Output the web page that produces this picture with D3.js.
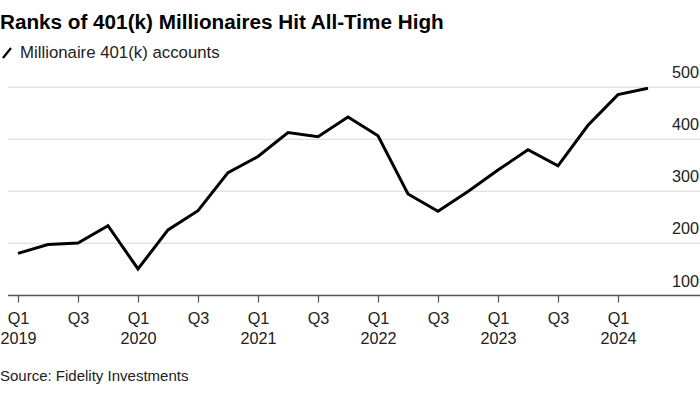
<!DOCTYPE html>
<html>
<head>
<meta charset="utf-8">
<script src="https://cdn.jsdelivr.net/npm/d3@7"></script>
<style>
    body { margin: 0; background: #fff; overflow: hidden; }
    svg { display: block; font-family: "Liberation Sans", Arial, sans-serif; }
</style>
</head>
<body>
<div id="chart"></div>
<script>
// datos (miles de cuentas)
const quarters = ['Q1 2019','Q2 2019','Q3 2019','Q4 2019','Q1 2020','Q2 2020','Q3 2020','Q4 2020',
    'Q1 2021','Q2 2021','Q3 2021','Q4 2021','Q1 2022','Q2 2022','Q3 2022','Q4 2022',
    'Q1 2023','Q2 2023','Q3 2023','Q4 2023','Q1 2024','Q2 2024'];
const accounts = [181, 198, 201, 234, 151, 226, 263, 336, 367, 413, 405, 443, 407, 295, 262, 300,
    341, 380, 349, 427, 486, 498];
const yTicks = [100, 200, 300, 400, 500];
const tickQuarters = ['Q1 2019','Q3 2019','Q1 2020','Q3 2020','Q1 2021','Q3 2021','Q1 2022','Q3 2022',
    'Q1 2023','Q3 2023','Q1 2024'];

let width = 700;
let height = 394;

let svg = d3.select('#chart').append('svg')
    .attr('width', width)
    .attr('height', height);

// Titulo
svg.append('text')
    .attr('x', 0).attr('y', 29)
    .style('font-size', '20.7px').style('font-weight', 'bold').style('fill', '#000')
    .text('Ranks of 401(k) Millionaires Hit All-Time High');

svg.append('line')
    .attr('x1', 3).attr('y1', 58).attr('x2', 11).attr('y2', 48)
    .style('stroke', '#000').style('stroke-width', 2.2);

svg.append('text')
    .attr('x', 20).attr('y', 58)
    .style('font-size', '16.8px').style('fill', '#222')
    .text('Millionaire 401(k) accounts');

const x = d3.scalePoint()
    .domain(quarters)
    .range([18, 648]);

const y = d3.scaleLinear()
    .domain([100, 500])
    .range([295.5, 87.3]);

// grid
svg.append('g')
    .selectAll('line')
    .data(yTicks.filter(d => d > 100))
    .enter()
    .append('line')
    .attr('x1', 8).attr('x2', 700)
    .attr('y1', d => y(d)).attr('y2', d => y(d))
    .style('stroke', '#e0e0e0').style('stroke-width', 1.3);

svg.append('g')
    .selectAll('text')
    .data(yTicks)
    .enter()
    .append('text')
    .attr('x', 699)
    .attr('y', d => y(d) - 9)
    .attr('text-anchor', 'end')
    .style('font-size', '16.2px').style('fill', '#222')
    .text(d => d);

// eje x
let xAxis = svg.append('g')
    .attr('transform', 'translate(0,' + y(100) + ')')
    .call(d3.axisBottom(x).tickValues(tickQuarters).tickSize(7).tickSizeOuter(0).tickFormat(''));

xAxis.select('.domain').remove();
xAxis.selectAll('.tick line').style('stroke', '#555').style('stroke-width', 1.2);

svg.append('line')
    .attr('x1', 8).attr('x2', 700)
    .attr('y1', y(100)).attr('y2', y(100))
    .style('stroke', '#555').style('stroke-width', 1.3);

xAxis.selectAll('.tick').each(function(d) {
    let parts = d.split(' ');
    let g = d3.select(this);
    g.append('text')
        .attr('y', 28).attr('text-anchor', 'middle')
        .style('font-size', '16.2px').style('fill', '#222').style('font-family', '"Liberation Sans", Arial, sans-serif')
        .text(parts[0]);
    if (parts[0] == 'Q1') {
        g.append('text')
            .attr('y', 48.5).attr('text-anchor', 'middle')
            .style('font-size', '16.2px').style('fill', '#222').style('font-family', '"Liberation Sans", Arial, sans-serif')
            .text(parts[1]);
    }
});

// linea
const line = d3.line()
    .x((d, i) => x(quarters[i]))
    .y(d => y(d));

svg.append('path')
    .datum(accounts)
    .attr('d', line)
    .style('fill', 'none')
    .style('stroke', '#000')
    .style('stroke-width', 3)
    .style('stroke-linejoin', 'miter');

// fuente
svg.append('text')
    .attr('x', 0).attr('y', 381)
    .style('font-size', '15px').style('fill', '#222')
    .text('Source: Fidelity Investments');
</script>
</body>
</html>
